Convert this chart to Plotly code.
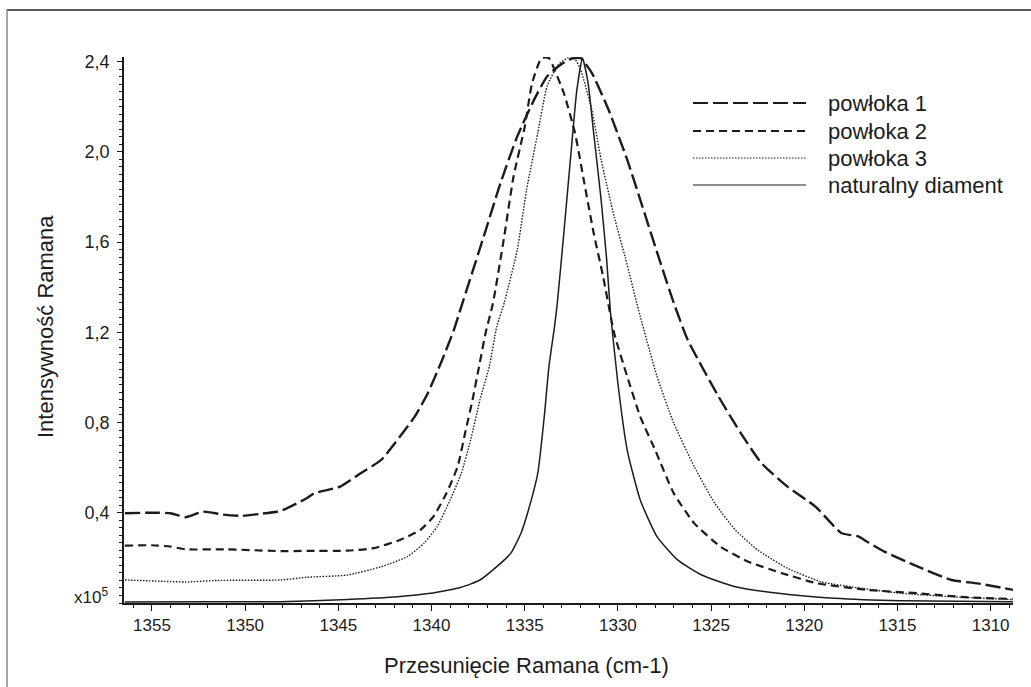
import plotly.graph_objects as go

# ---- data (Raman shift cm-1, intensity x10^5) ----
x_p1 = [1356.45, 1355.0, 1354.0, 1353.2, 1352.25, 1351.2, 1350.2, 1349.2, 1348.1, 1346.7, 1346.3,
        1344.9, 1343.8, 1342.7, 1341.7, 1340.9, 1340.2, 1339.5, 1338.8, 1338.4, 1337.2, 1336.3,
        1335.4, 1334.5, 1333.8, 1333.0, 1332.4, 1332.0, 1331.4, 1330.5, 1329.5, 1328.8, 1327.9,
        1327.0, 1326.25, 1324.6, 1323.4, 1322.3, 1320.9, 1319.4, 1318.4, 1318.0, 1317.1, 1316.6,
        1315.7, 1313.9, 1312.1, 1310.7, 1308.8]
y_p1 = [0.398, 0.400, 0.398, 0.380, 0.405, 0.392, 0.386, 0.395, 0.408, 0.464, 0.486,
        0.516, 0.575, 0.634, 0.737, 0.826, 0.930, 1.063, 1.210, 1.314, 1.624, 1.861,
        2.068, 2.230, 2.334, 2.390, 2.415, 2.415, 2.350, 2.186, 1.965, 1.787, 1.555,
        1.329, 1.166, 0.915, 0.752, 0.620, 0.516, 0.427, 0.340, 0.309, 0.295, 0.270,
        0.228, 0.161, 0.102, 0.087, 0.058]

x_p2 = [1356.45, 1355.0, 1354.0, 1353.2, 1351.0, 1348.1, 1346.7, 1344.5, 1343.1, 1341.7, 1340.6,
        1339.9, 1339.2, 1338.6, 1338.2, 1337.8, 1337.45, 1337.1, 1336.7, 1336.1, 1335.6, 1335.0,
        1334.6, 1334.1, 1333.7, 1333.4, 1332.9, 1332.3, 1331.8, 1331.3, 1330.8, 1330.2, 1329.5,
        1328.8, 1328.0, 1327.0, 1325.9, 1324.5, 1323.0, 1321.2, 1319.3, 1316.6, 1313.9, 1311.2,
        1308.8]
y_p2 = [0.254, 0.256, 0.250, 0.238, 0.238, 0.230, 0.231, 0.232, 0.243, 0.279, 0.324,
        0.383, 0.486, 0.604, 0.752, 0.900, 1.048, 1.196, 1.330, 1.624, 1.890, 2.110,
        2.305, 2.415, 2.415, 2.364, 2.260, 2.083, 1.861, 1.640, 1.450, 1.196, 1.004,
        0.826, 0.678, 0.486, 0.353, 0.250, 0.183, 0.132, 0.087, 0.058, 0.043, 0.025,
        0.018]

x_p3 = [1356.45, 1354.0, 1353.2, 1351.5, 1348.1, 1346.7, 1344.5, 1342.7, 1341.3, 1340.4, 1339.7,
        1339.0, 1338.4, 1337.9, 1337.4, 1336.9, 1336.5, 1336.1, 1335.4, 1334.9, 1334.3, 1333.8,
        1333.2, 1332.7, 1332.3, 1332.0, 1331.4, 1330.9, 1330.2, 1329.6, 1328.8, 1327.9, 1327.0,
        1325.9, 1324.8, 1323.7, 1322.5, 1320.9, 1319.1, 1316.9, 1314.8, 1312.1, 1308.8]
y_p3 = [0.102, 0.095, 0.093, 0.100, 0.102, 0.114, 0.124, 0.161, 0.205, 0.265, 0.338,
        0.457, 0.575, 0.723, 0.900, 1.048, 1.225, 1.330, 1.565, 1.831, 2.083, 2.290,
        2.386, 2.415, 2.410, 2.364, 2.186, 1.965, 1.713, 1.530, 1.270, 1.004, 0.797,
        0.604, 0.442, 0.324, 0.235, 0.154, 0.094, 0.065, 0.043, 0.028, 0.015]

x_nd = [1356.45, 1352.0, 1348.1, 1344.5, 1341.8, 1340.05, 1338.4, 1337.4, 1336.5, 1335.75, 1335.2,
        1334.8, 1334.3, 1333.95, 1333.7, 1333.4, 1333.25, 1332.9, 1332.5, 1332.2, 1331.9, 1331.6,
        1331.3, 1330.9, 1330.6, 1330.4, 1330.0, 1329.5, 1328.8, 1327.9, 1326.8, 1325.5, 1323.7,
        1321.4, 1318.4, 1314.8, 1308.8]
y_nd = [0.004, 0.006, 0.006, 0.016, 0.028, 0.043, 0.070, 0.102, 0.161, 0.220, 0.309,
        0.412, 0.575, 0.826, 1.048, 1.225, 1.330, 1.640, 2.010, 2.275, 2.415, 2.305,
        2.083, 1.787, 1.520, 1.290, 0.974, 0.678, 0.457, 0.294, 0.191, 0.124, 0.072,
        0.043, 0.021, 0.010, 0.006]

series_names = ["powłoka 1", "powłoka 2", "powłoka 3", "naturalny diament"]
x_ticks = [1355, 1350, 1345, 1340, 1335, 1330, 1325, 1320, 1315, 1310]
y_ticks = [0.4, 0.8, 1.2, 1.6, 2.0, 2.4]
y_labels = ["0,4", "0,8", "1,2", "1,6", "2,0", "2,4"]

# ---- styles ----
INK = "#1c1c1c"
FONT = "Liberation Sans, Arial, sans-serif"
styles = [
    dict(dash="15px,5px", width=2.4),
    dict(dash="8px,5px", width=2.2),
    dict(dash="1.5px,1.5px", width=1.4),
    dict(dash="solid", width=1.5),
]
data = [(x_p1, y_p1), (x_p2, y_p2), (x_p3, y_p3), (x_nd, y_nd)]

fig = go.Figure()
for (xs, ys), name, st in zip(data, series_names, styles):
    fig.add_trace(go.Scatter(
        x=xs, y=ys, mode="lines", name=name, showlegend=False,
        line=dict(color=INK, width=st["width"], dash=st["dash"],
                  shape="spline", smoothing=0.5),
    ))

L, R, T, B = 124, 18, 57, 84
W, H = 1031, 687
pw, ph = W - L - R, H - T - B

def px(xp):
    return (xp - L) / pw

def py(yp):
    return (H - B - yp) / ph

fig.update_layout(
    width=W, height=H,
    margin=dict(l=L, r=R, t=T, b=B, pad=0),
    paper_bgcolor="white", plot_bgcolor="white",
    font=dict(family=FONT, color=INK),
    separators=",.",
    showlegend=False,
)
fig.update_xaxes(
    range=[1356.5, 1308.8], autorange=False,
    tickvals=x_ticks, ticktext=[str(v) for v in x_ticks],
    ticks="outside", ticklen=6, tickwidth=1.2, tickcolor=INK,
    minor=dict(dtick=1, tick0=1310, ticks="outside", ticklen=3, tickwidth=1, tickcolor=INK),
    showline=True, linecolor=INK, linewidth=1.6,
    showgrid=False, zeroline=False,
    tickfont=dict(size=17, family=FONT, color=INK),
)
fig.update_yaxes(
    range=[0, 2.42], autorange=False,
    tickvals=y_ticks, ticktext=y_labels,
    ticks="outside", ticklen=5, tickwidth=1.2, tickcolor=INK,
    minor=dict(dtick=0.4 / 12, tick0=0, ticks="outside", ticklen=3, tickwidth=1, tickcolor=INK),
    showline=True, linecolor=INK, linewidth=1.6,
    showgrid=False, zeroline=False,
    tickfont=dict(size=18, family=FONT, color=INK),
    ticklabelstandoff=4,
)

annotations = []
shapes = []

# axis titles
annotations.append(dict(text="Przesunięcie Ramana (cm-1)", xref="paper", yref="paper",
                        x=px(526), y=py(665), xanchor="center", yanchor="middle",
                        showarrow=False, font=dict(size=22, family=FONT, color=INK)))
annotations.append(dict(text="Intensywność Ramana", xref="paper", yref="paper",
                        x=px(45), y=py(327), xanchor="center", yanchor="middle",
                        textangle=-90, showarrow=False,
                        font=dict(size=22, family=FONT, color=INK)))
# multiplier
annotations.append(dict(text="x10<sup>5</sup>", xref="paper", yref="paper",
                        x=px(110), y=py(596), xanchor="right", yanchor="middle",
                        showarrow=False, font=dict(size=17, family=FONT, color=INK)))

# manual legend
legend_rows = [103, 131, 158, 185]
for name, st, ry in zip(series_names, styles, legend_rows):
    shapes.append(dict(type="line", xref="paper", yref="paper",
                       x0=px(693), x1=px(806), y0=py(ry), y1=py(ry),
                       line=dict(color=INK, width=st["width"] * 0.8, dash=st["dash"])))
    annotations.append(dict(text=name, xref="paper", yref="paper",
                            x=px(826), y=py(ry), xanchor="left", yanchor="middle",
                            showarrow=False, font=dict(size=22, family=FONT, color=INK)))

# outer frame (top and left edges)
shapes.append(dict(type="line", xref="paper", yref="paper",
                   x0=px(7), x1=px(1031), y0=py(10), y1=py(10),
                   line=dict(color="#222222", width=1.5)))
shapes.append(dict(type="line", xref="paper", yref="paper",
                   x0=px(7), x1=px(7), y0=py(10), y1=py(687),
                   line=dict(color="#888888", width=1.5)))

fig.update_layout(annotations=annotations, shapes=shapes)
fig.write_html("out.html", config={"displayModeBar": False},
               post_script="document.body.style.margin='0px';document.body.style.padding='0px';")
